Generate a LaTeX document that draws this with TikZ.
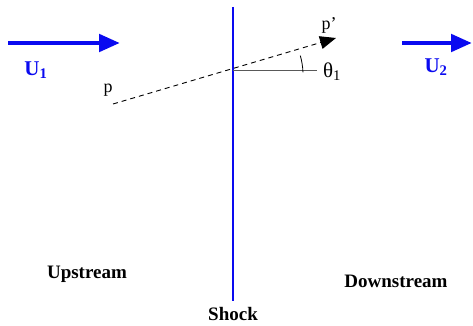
\documentclass[tikz,border=0pt]{standalone}
\usepackage{fontspec}
\setmainfont{Liberation Serif}
\usetikzlibrary{arrows.meta}
\definecolor{flowblue}{RGB}{10,10,240}
\begin{document}
\begin{tikzpicture}[x=1pt,y=-1pt,
  flowarrow/.style={draw=flowblue,line width=4.8pt,-{Triangle[length=21pt,width=17pt]}},
  shockline/.style={draw=flowblue,line width=2.6pt},
  bigbold/.style={font=\fontsize{19}{22}\selectfont\bfseries,inner sep=0pt},
  ulabel/.style={font=\fontsize{21}{22}\selectfont\bfseries,text=flowblue,inner sep=0pt},
  plabel/.style={font=\fontsize{18}{20}\selectfont,inner sep=0pt}]
\useasboundingbox (0,0) rectangle (473,326);
% shock
\coordinate (stop) at (233,7);
\coordinate (sbot) at (233,301);
\draw[shockline] (stop) -- (sbot);
% flow arrows
\coordinate (u1a) at (8,43);
\coordinate (u1b) at (120,43);
\coordinate (u2a) at (402,43);
\coordinate (u2b) at (472,43);
\draw[flowarrow] (u1a) -- (u1b);
\draw[flowarrow] (u2a) -- (u2b);
\node[ulabel] (U1) at (36,70) {U\textsubscript{1}};
\node[ulabel] (U2) at (436,67) {U\textsubscript{2}};
% particle path
\coordinate (pstart) at (113,104);
\coordinate (cross) at (233,70);
\coordinate (pend) at (336,38);
\coordinate (href) at (317,70);
\draw[gray!70!black,line width=0.8pt] (cross) -- (href);
\draw[dashed,dash pattern=on 5pt off 4pt,line width=0.9pt,-{Triangle[length=16pt,width=13pt]}] (pstart) -- (pend);
\draw[line width=0.8pt] ([shift={(2:70)}]cross) arc[start angle=-2,end angle=-16,radius=70];
\node[plabel] (p) at (108,90) {p};
\node[plabel] (pp) at (329,25) {p’};
\node[font=\fontsize{21}{22}\selectfont,inner sep=0pt] (theta) at (332,72) {θ\textsubscript{1}};
% region labels
\node[bigbold] (up) at (87,274) {Upstream};
\node[bigbold] (down) at (396,281) {Downstream};
\node[bigbold] (shock) at (233,314) {Shock};
\end{tikzpicture}
\end{document}
